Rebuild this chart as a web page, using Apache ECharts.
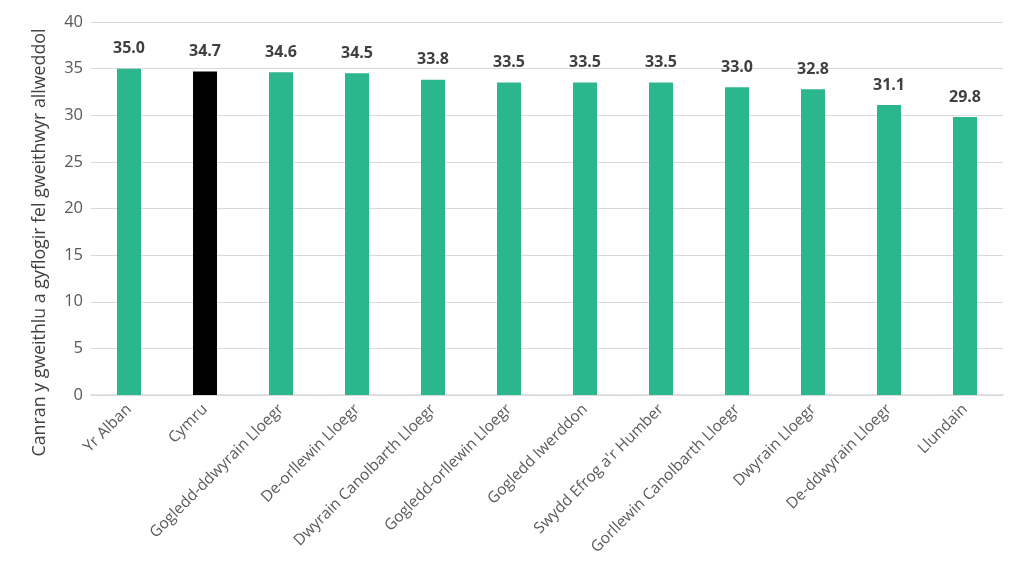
<!DOCTYPE html>
<html><head><meta charset="utf-8">
<script src="https://cdn.jsdelivr.net/npm/echarts@6/dist/echarts.min.js"></script>
<style>html,body{margin:0;padding:0;background:#fff}#c{width:1024px;height:582px}</style>
</head><body><div id="c"></div>
<script>
const categories = ["Yr Alban","Cymru","Gogledd-ddwyrain Lloegr","De-orllewin Lloegr","Dwyrain Canolbarth Lloegr","Gogledd-orllewin Lloegr","Gogledd Iwerddon","Swydd Efrog a'r Humber","Gorllewin Canolbarth Lloegr","Dwyrain Lloegr","De-ddwyrain Lloegr","Llundain"];
const values = [35.0,34.7,34.6,34.5,33.8,33.5,33.5,33.5,33.0,32.8,31.1,29.8];
const highlight = "Cymru";
const yAxisTitle = "Canran y gweithlu a gyflogir fel gweithwyr allweddol";
const chart = echarts.init(document.getElementById('c'));
const font = '"Open Sans", Lato, sans-serif';
chart.setOption({
  animation:false,
  grid:{left:91,right:21,top:22,bottom:187},
  xAxis:{type:'category',data:categories,
    axisLine:{lineStyle:{color:'#d9d9d9',width:1.5}},axisTick:{show:false},
    axisLabel:{rotate:45,color:'#595959',fontSize:15.5,fontFamily:font,margin:12,interval:0}},
  yAxis:{type:'value',min:0,max:40,interval:5,
    name:yAxisTitle,nameLocation:'middle',nameGap:42,
    nameTextStyle:{color:'#404040',fontSize:17.8,fontFamily:font,padding:[0,68,0,0]},
    axisLine:{show:false},axisTick:{show:false},
    axisLabel:{color:'#595959',fontSize:16.5,fontFamily:font,margin:8},
    splitLine:{lineStyle:{color:'#d9d9d9',width:1.2}}},
  series:[{type:'bar',barWidth:24,
    data:values.map((v,i)=>({value:v,itemStyle:{color:categories[i]===highlight?'#000000':'#2BB68E'}})),
    label:{show:true,position:'top',distance:12,formatter:p=>p.value.toFixed(1),
      color:'#404040',fontWeight:'bold',fontSize:16,fontFamily:font}}]
});
</script></body></html>
